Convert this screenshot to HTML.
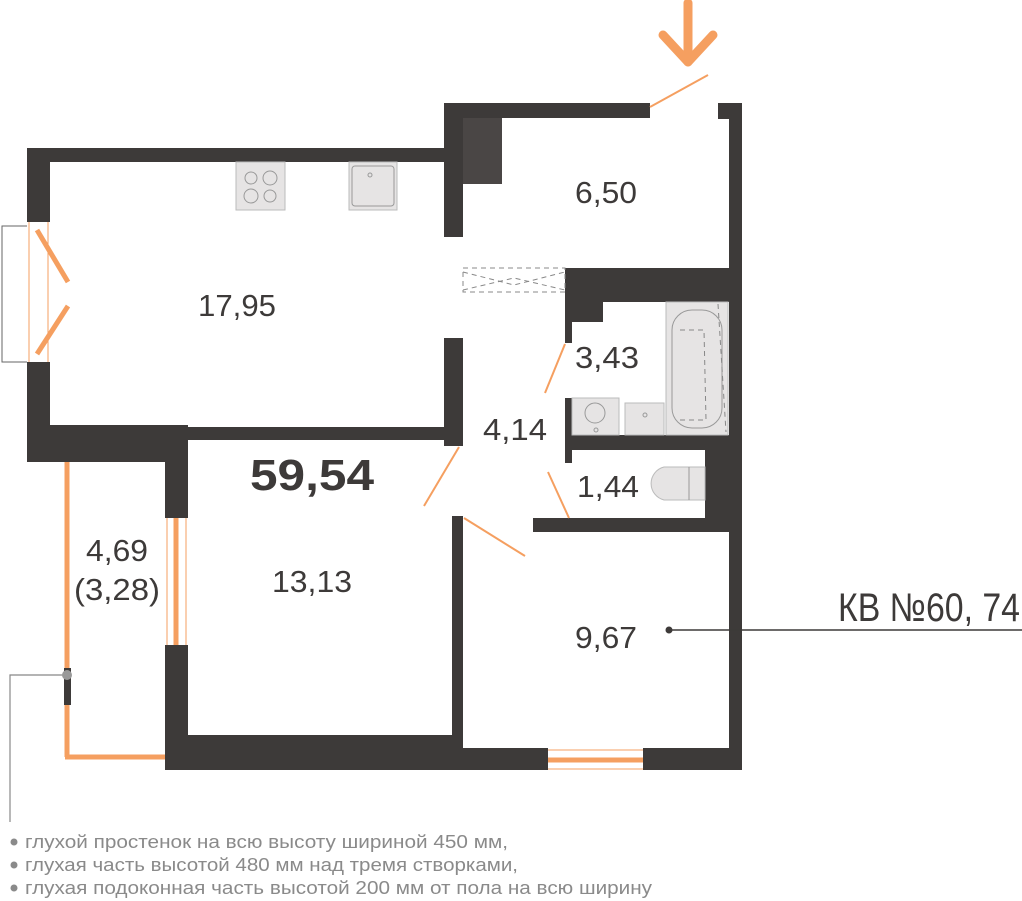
<!DOCTYPE html>
<html><head><meta charset="utf-8"><style>html,body{margin:0;padding:0;background:#fff}svg{display:block}</style></head>
<body>
<svg width="1022" height="901" viewBox="0 0 1022 901" xmlns="http://www.w3.org/2000/svg" font-family="Liberation Sans, sans-serif">
<g fill="#3d3a39">
<rect x="27" y="148" width="425" height="14"/>
<rect x="27" y="148" width="23" height="74"/>
<rect x="27" y="362" width="23" height="100"/>
<rect x="27" y="425" width="161" height="37"/>
<rect x="165" y="427" width="287" height="13"/>
<rect x="165" y="427" width="23" height="91"/>
<rect x="165" y="645" width="23" height="125"/>
<rect x="444" y="338" width="19" height="108"/>
<rect x="444" y="103" width="206" height="15"/>
<rect x="444" y="103" width="19" height="134"/>
<rect x="718" y="103" width="24" height="16"/>
<rect x="729" y="103" width="13" height="667"/>
<rect x="565" y="268" width="165" height="34"/>
<rect x="565" y="300" width="38" height="22"/>
<rect x="565" y="268" width="7" height="75"/>
<rect x="565" y="435" width="165" height="15"/>
<rect x="565" y="398" width="7" height="65"/>
<rect x="705" y="443" width="25" height="77"/>
<rect x="533" y="518" width="197" height="14"/>
<rect x="452" y="516" width="11" height="232"/>
<rect x="165" y="735" width="298" height="35"/>
<rect x="452" y="748" width="96" height="22"/>
<rect x="643" y="748" width="99" height="22"/>
</g>
<rect x="463" y="118" width="39" height="66" fill="#4a4645"/>
<g fill="none" stroke="#f59f60">
<line x1="29" y1="222" x2="29" y2="362" stroke-width="1"/><line x1="48" y1="222" x2="48" y2="362" stroke-width="1"/>
<line x1="37" y1="230" x2="68" y2="282" stroke-width="5"/>
<line x1="37" y1="354" x2="68" y2="306" stroke-width="5"/>
<line x1="67" y1="462" x2="67" y2="757" stroke-width="5"/>
<line x1="65" y1="757" x2="165" y2="757" stroke-width="5"/>
<line x1="176" y1="518" x2="176" y2="645" stroke-width="5"/>
<line x1="167" y1="518" x2="167" y2="645" stroke-width="1"/><line x1="186" y1="518" x2="186" y2="645" stroke-width="1"/>
<line x1="548" y1="760" x2="643" y2="760" stroke-width="5"/>
<line x1="548" y1="750" x2="643" y2="750" stroke-width="1"/><line x1="548" y1="769" x2="643" y2="769" stroke-width="1"/>
<line x1="650" y1="107" x2="708" y2="75" stroke-width="2"/>
<line x1="565" y1="344" x2="545" y2="393" stroke-width="2"/>
<line x1="459" y1="447" x2="424" y2="506" stroke-width="2"/>
<line x1="548" y1="472" x2="569" y2="518" stroke-width="2"/>
<line x1="464" y1="518" x2="525" y2="556" stroke-width="2"/>
<g stroke-width="9" stroke-linecap="round" stroke-linejoin="round"><line x1="688" y1="3" x2="688" y2="62"/><polyline points="663,35 688,62 713,35"/></g>
</g>
<rect x="64" y="668" width="7" height="37" fill="#3d3a39"/>
<polyline points="27,226 2,226 2,362 27,362" fill="none" stroke="#666" stroke-width="1"/>
<g fill="#e6e4e4" stroke="#bbb" stroke-width="1">
<rect x="236" y="162" width="49" height="48"/>
<rect x="349" y="162" width="48" height="48"/>
<rect x="666" y="302" width="62" height="133"/>
<rect x="572" y="398" width="47" height="37"/>
<rect x="625" y="403" width="39" height="32"/>
<path d="M705,467 H664 A17,17 0 0 0 664,500 H705 Z"/>
</g>
<g fill="none" stroke="#999" stroke-width="1">
<circle cx="251" cy="178" r="6"/><circle cx="270" cy="178" r="7"/><circle cx="251" cy="196" r="7"/><circle cx="270" cy="196" r="6"/>
<rect x="352" y="166" width="42" height="40" rx="3"/><circle cx="370" cy="175" r="2"/>
<rect x="672" y="310" width="50" height="118" rx="20"/>
<circle cx="595" cy="413" r="10"/><circle cx="596" cy="430" r="2"/>
<circle cx="645" cy="415" r="2"/>
<line x1="689" y1="467" x2="689" y2="500"/>
</g>
<g fill="none" stroke="#888" stroke-width="1" stroke-dasharray="5,4">
<rect x="463" y="268" width="102" height="24"/>
<polyline points="463,272 514,285 565,272"/><polyline points="463,290 514,278 565,290"/>
<polyline points="680,330 704,330 706,420 680,420"/>
<line x1="718" y1="304" x2="726" y2="432"/>
</g>
<polyline points="64,675 10,675 10,822" fill="none" stroke="#888" stroke-width="1.2"/>
<circle cx="67" cy="675" r="5" fill="#999"/>
<line x1="668" y1="630" x2="1022" y2="630" stroke="#3d3a39" stroke-width="1.5"/>
<circle cx="669" cy="630" r="3.5" fill="#3d3a39"/>
<g fill="#3d3a39" font-size="31" text-anchor="middle">
<text x="237" y="316" textLength="78" lengthAdjust="spacingAndGlyphs">17,95</text>
<text x="606" y="203" textLength="62" lengthAdjust="spacingAndGlyphs">6,50</text>
<text x="607" y="368" textLength="64" lengthAdjust="spacingAndGlyphs">3,43</text>
<text x="515" y="440" textLength="64" lengthAdjust="spacingAndGlyphs">4,14</text>
<text x="608" y="497" textLength="62" lengthAdjust="spacingAndGlyphs">1,44</text>
<text x="312" y="592" textLength="80" lengthAdjust="spacingAndGlyphs">13,13</text>
<text x="606" y="648" textLength="62" lengthAdjust="spacingAndGlyphs">9,67</text>
<text x="117" y="561" textLength="62" lengthAdjust="spacingAndGlyphs">4,69</text>
<text x="117" y="600" textLength="86" lengthAdjust="spacingAndGlyphs">(3,28)</text>
<text x="312" y="490" font-size="44" font-weight="bold" textLength="124" lengthAdjust="spacingAndGlyphs">59,54</text>
<text x="929" y="621" font-size="40" textLength="182" lengthAdjust="spacingAndGlyphs">КВ №60, 74</text>
</g>
<g fill="#8a8a8a" font-size="18">
<circle cx="14" cy="842" r="3.5"/><circle cx="14" cy="865" r="3.5"/><circle cx="14" cy="888" r="3.5"/>
<text x="25" y="848" textLength="483" lengthAdjust="spacingAndGlyphs">глухой простенок на всю высоту шириной 450 мм,</text>
<text x="25" y="871" textLength="493" lengthAdjust="spacingAndGlyphs">глухая часть высотой 480 мм над тремя створками,</text>
<text x="25" y="894" textLength="627" lengthAdjust="spacingAndGlyphs">глухая подоконная часть высотой 200 мм от пола на всю ширину</text>
</g>
</svg>
</body></html>
